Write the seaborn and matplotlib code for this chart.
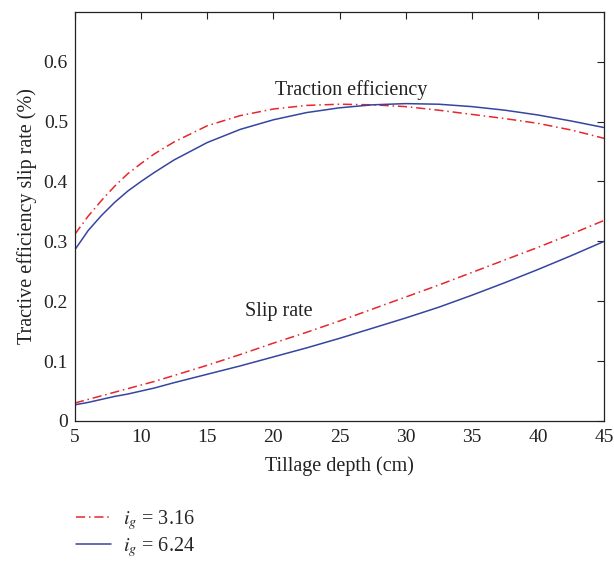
import numpy as np
import pandas as pd
import matplotlib
matplotlib.use("Agg")
import matplotlib.pyplot as plt
import seaborn as sns
from matplotlib.lines import Line2D

depth = [5, 6, 7, 8, 9, 10, 11, 12.5, 15, 17.5, 20, 22.5, 25, 27.5, 30, 32.5, 35, 37.5, 40, 42.5, 45]
eff_316 = [0.312, 0.342, 0.368, 0.392, 0.413, 0.43, 0.446, 0.466, 0.493, 0.51, 0.521, 0.527, 0.529, 0.528, 0.525, 0.519, 0.512, 0.505, 0.497, 0.486, 0.472]
eff_624 = [0.286, 0.318, 0.343, 0.365, 0.384, 0.40, 0.415, 0.436, 0.465, 0.487, 0.503, 0.515, 0.523, 0.528, 0.53, 0.529, 0.525, 0.519, 0.511, 0.501, 0.49]
slip_316 = [0.03, 0.036, 0.042, 0.048, 0.054, 0.06, 0.066, 0.076, 0.093, 0.111, 0.13, 0.148, 0.167, 0.187, 0.207, 0.227, 0.248, 0.269, 0.29, 0.312, 0.335]
slip_624 = [0.027, 0.031, 0.036, 0.041, 0.045, 0.05, 0.055, 0.064, 0.078, 0.092, 0.107, 0.122, 0.138, 0.155, 0.172, 0.19, 0.21, 0.231, 0.253, 0.276, 0.30]

x_ticks = [5, 10, 15, 20, 25, 30, 35, 40, 45]
y_ticks = [0, 0.1, 0.2, 0.3, 0.4, 0.5, 0.6]
y_tick_labels = ["0", "0.1", "0.2", "0.3", "0.4", "0.5", "0.6"]
legend_labels = ["$i_g$ = 3.16", "$i_g$ = 6.24"]

sns.set_theme(style="white")
plt.rcParams["font.family"] = ["Liberation Serif", "DejaVu Serif"]
plt.rcParams["mathtext.fontset"] = "stix"

red = "#e8262b"
blue = "#3545a0"
txt = "#222222"

fig = plt.figure(figsize=(6.14, 5.61), dpi=100)
ax = fig.add_axes([0.122, 0.2496, 0.862, 0.729])

df = pd.DataFrame({"depth": depth, "e316": eff_316, "e624": eff_624,
                   "s316": slip_316, "s624": slip_624})

dd = (6, 2.5, 1, 2.5)
sns.lineplot(data=df, x="depth", y="e316", ax=ax, color=red, lw=1.1)
ax.lines[-1].set_dashes(dd)
sns.lineplot(data=df, x="depth", y="s316", ax=ax, color=red, lw=1.1)
ax.lines[-1].set_dashes(dd)
sns.lineplot(data=df, x="depth", y="e624", ax=ax, color=blue, lw=1.1)
sns.lineplot(data=df, x="depth", y="s624", ax=ax, color=blue, lw=1.1)

ax.set_xlim(5, 45)
ax.set_ylim(0, 0.683)
ax.set_xticks(x_ticks)
ax.set_yticks(y_ticks)
ax.set_yticklabels(y_tick_labels)
ax.tick_params(direction="in", length=5, width=0.8, top=True, right=True,
               labelsize=14, colors=txt, pad=5)
ax.tick_params(axis="x", pad=6)
for s in ax.spines.values():
    s.set_color(txt)
    s.set_linewidth(0.9)

ax.set_xlabel("Tillage depth (cm)", fontsize=14.5, color=txt, labelpad=7)
ax.set_ylabel("Tractive efficiency slip rate (%)", fontsize=14.5, color=txt, labelpad=5)

ax.text(25.9, 0.552, "Traction efficiency", ha="center", va="center", fontsize=14.5, color=txt)
ax.text(20.4, 0.182, "Slip rate", ha="center", va="center", fontsize=14.5, color=txt)

h1 = Line2D([], [], color=red, lw=1.1, dashes=dd)
h2 = Line2D([], [], color=blue, lw=1.1)
fig.legend([h1, h2], legend_labels, loc="upper left",
           bbox_to_anchor=(0.123, 0.094), frameon=False, fontsize=14.5,
           handlelength=1.75, handletextpad=0.6, labelspacing=0.15, borderpad=0,
           borderaxespad=0)

fig.savefig("out.png", dpi=100)
